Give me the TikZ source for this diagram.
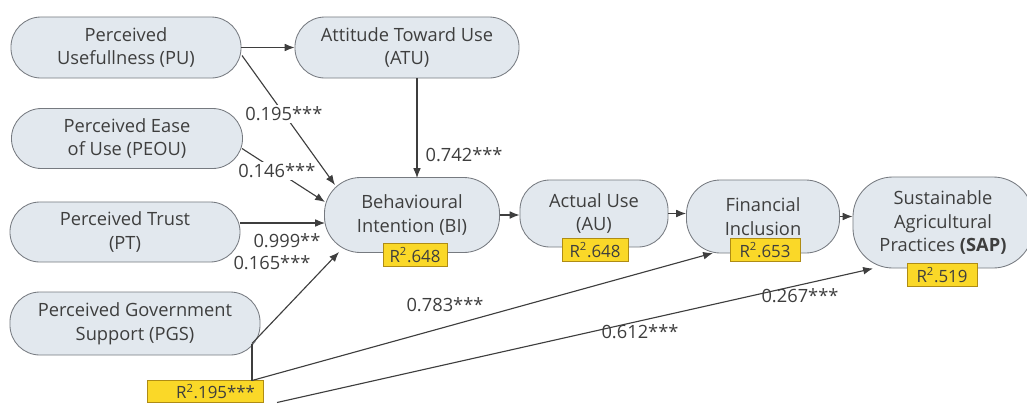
\documentclass[tikz,border=0pt]{standalone}
\usepackage{fontspec}
\setmainfont{Open Sans}
\usetikzlibrary{arrows.meta}

\definecolor{nodefill}{RGB}{226,232,238}
\definecolor{nodeline}{RGB}{118,122,128}
\definecolor{rfill}{RGB}{250,216,40}
\definecolor{rline}{RGB}{175,140,20}
\definecolor{ink}{RGB}{62,62,62}

\begin{document}
\begin{tikzpicture}[
        % --- 區域樣式設定 ---
        x=0.025cm, y=-0.025cm,
        every node/.style={text=ink, inner sep=0pt, font=\fontsize{13}{17}\selectfont},
        cn/.style={draw=nodeline, fill=nodefill, line width=0.6pt, rounded corners=0.75cm, align=center}, % 構面節點
        rn/.style={draw=rline, fill=rfill, line width=0.6pt, minimum height=0.56cm, font=\fontsize{12}{14}\selectfont}, % R2 方塊
        cf/.style={fill=white, inner sep=1.5pt},  % 線上係數
        link/.style={draw=ink, line width=0.8pt, ->, >={Latex[length=7pt,width=5.5pt]}},
        plain/.style={draw=ink, line width=0.8pt}
        % --------------------
    ]
    \useasboundingbox (0,0) rectangle (1027,410);

    % 左側構面
    \node[cn, minimum width=5.75cm, minimum height=1.525cm] (PU) at (126,47.5) {Perceived\\Usefullness (PU)};
    \node[cn, minimum width=5.6cm, minimum height=1.525cm] (ATU) at (407,47.5) {Attitude Toward Use\\(ATU)};
    \node[cn, minimum width=5.775cm, minimum height=1.5cm] (PEOU) at (127,138.5) {Perceived Ease\\of Use (PEOU)};
    \node[cn, minimum width=5.75cm, minimum height=1.5cm] (PT) at (125,232) {Perceived Trust\\(PT)};
    \node[cn, minimum width=6.25cm, minimum height=1.575cm] (PGS) at (135,323.5) {Perceived Government\\Support (PGS)};

    % 右側構面
    \node[cn, rounded corners=0.9cm, minimum width=4.375cm, minimum height=1.875cm] (BI) at (412,215) {Behavioural\\Intention (BI)};
    \node[cn, minimum width=3.7cm, minimum height=1.675cm] (AU) at (594,213.5) {Actual Use\\(AU)};
    \node[cn, rounded corners=0.85cm, minimum width=3.825cm, minimum height=1.825cm] (FI) at (763,216.5) {Financial\\Inclusion};
    \node[cn, rounded corners=1cm, minimum width=4.5cm, minimum height=2.275cm] (SAP) at (943,222.5) {Sustainable\\Agricultural\\Practices \textbf{(SAP)}};

    % R2 方塊
    \node[rn, minimum width=1.6cm] (rBI) at (415,255) {R\textsuperscript{2}.648};
    \node[rn, minimum width=1.65cm] (rAU) at (595,250) {R\textsuperscript{2}.648};
    \node[rn, minimum width=1.75cm] (rFI) at (765,250) {R\textsuperscript{2}.653};
    \node[rn, minimum width=1.75cm] (rSAP) at (942,275) {R\textsuperscript{2}.519};
    \node[rn, minimum width=2.9cm, text width=2.5cm, align=right] (rPGS) at (205,391.5) {R\textsuperscript{2}.195***};

    % --- 路徑 ---
    \draw[link] (PU.east) -- (ATU.west);
    \draw[link] ([shift={(116,8)}]PU.center) -- node[cf, pos=0.45] (cPU) {0.195***} ([shift={(-77,-30)}]BI.center);
    \draw[link] ([shift={(115,10)}]PEOU.center) -- node[cf, pos=0.42] (cPEOU) {0.146***} ([shift={(-87,-13)}]BI.center);
    \draw[link] ([shift={(10,0)}]ATU.south) -- node[pos=0.77, right=0.2cm] (cATU) {0.742***} ([shift={(5,-37)}]BI.center);
    \draw[link] ([shift={(0,-9)}]PT.east) -- node[pos=0.55, below=0.25cm] (cPT) {0.999**} ([shift={(-87,8)}]BI.center);
    \draw[link] ([shift={(117,20)}]PGS.center) -- ([shift={(-73,37)}]BI.center);
    \node (cPGS) at (272,263) {0.165***};

    \draw[link] (BI.east) -- (BI.east -| AU.west);
    \draw[link] (AU.east) -- (AU.east -| FI.west);
    \draw[link] (FI.east) -- (FI.east -| SAP.west);

    % PGS 直接效果
    \draw[plain] ([shift={(47,-11)}]rPGS.center) -- ([shift={(117,20)}]PGS.center);
    \draw[link] ([shift={(47,-11)}]rPGS.center) -- ([shift={(-50,36.5)}]FI.center);
    \draw[link] ([shift={(72,11)}]rPGS.center) -- ([shift={(-70,46)}]SAP.center);
    \node (cFI) at (445,305) {0.783***};
    \node (cSAP) at (640,332) {0.612***};
    \node (cSAPb) at (800,296) {0.267***};
\end{tikzpicture}
\end{document}
